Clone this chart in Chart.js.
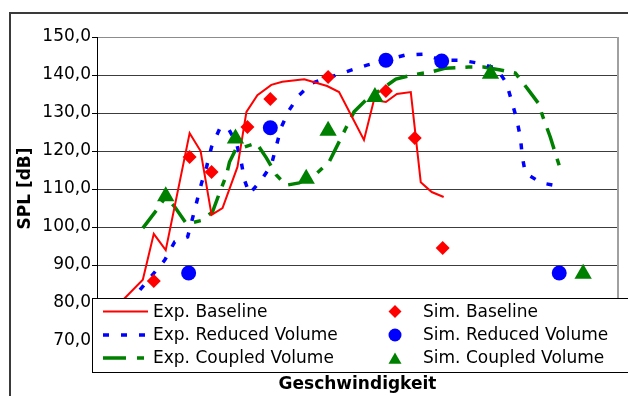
<!DOCTYPE html>
<html>
<head>
<meta charset="utf-8">
<script src="https://cdn.jsdelivr.net/npm/chart.js@4.4.1/dist/chart.umd.min.js"></script>
<style>
  html, body { margin: 0; padding: 0; background: #fff; }
  canvas { display: block; }
</style>
</head>
<body>
<canvas id="splChart" width="628" height="396"></canvas>
<script>
// Speed axis has no labels, so positions are in plain units (0 .. 523)
const expBaselineX = [16, 28, 46, 57, 69, 93, 104, 115, 126, 141, 150, 161, 175, 186, 208, 231, 243, 268, 278, 290, 301, 315, 325, 336, 348];
const expBaselineY = [78.2, 81.3, 86.1, 98.2, 93.9, 124.7, 120.0, 103.2, 105.0, 115.8, 130.3, 134.7, 137.4, 138.2, 138.9, 137.1, 135.5, 122.9, 133.4, 132.9, 135.0, 135.5, 111.8, 109.2, 107.9];

const expReducedX = [33, 43, 68, 78, 91, 96, 105, 110, 115, 123, 131, 140, 145, 148, 153, 165, 175, 185, 193, 203, 216, 253, 271, 310, 328, 346, 365, 381, 401, 411, 416, 421, 425, 427, 430, 446, 463];
const expReducedY = [79.5, 83.4, 91.3, 96.1, 97.4, 102.4, 111.6, 115.8, 121.1, 125.8, 126.3, 122.1, 116.8, 112.4, 108.7, 112.4, 116.3, 126.3, 130.8, 134.7, 137.9, 141.1, 142.6, 145.3, 145.5, 143.9, 143.9, 143.2, 141.8, 137.9, 133.4, 128.7, 123.7, 118.4, 114.2, 111.6, 110.8];

const expCoupledX = [46, 60, 69, 78, 90, 106, 116, 123, 130, 133, 139, 145, 160, 170, 180, 190, 203, 221, 233, 250, 258, 270, 300, 316, 335, 350, 373, 388, 405, 420, 433, 443, 448, 455, 460, 466];
const expCoupledY = [99.7, 104.5, 108.0, 105.3, 100.8, 101.8, 104.0, 109.0, 113.7, 117.1, 120.3, 120.8, 122.1, 118.2, 113.7, 111.0, 111.6, 114.2, 117.1, 126.1, 130.3, 133.4, 138.9, 140.0, 140.8, 141.8, 142.1, 142.1, 141.3, 140.5, 136.1, 132.6, 128.7, 123.7, 119.5, 114.5];

const simBaselineX = [57, 93, 115, 151, 174, 232, 290, 319, 347];
const simBaselineY = [85.8, 118.4, 114.5, 126.3, 133.7, 139.5, 135.8, 123.4, 94.5];

const simReducedX = [92, 174, 290, 346, 464];
const simReducedY = [87.9, 126.1, 143.9, 143.7, 87.9];

const simCoupledX = [69, 139, 210, 232, 279, 395, 488];
const simCoupledY = [108.1, 123.3, 112.7, 125.3, 134.2, 140.3, 87.7];

const yTicks = [70, 80, 90, 100, 110, 120, 130, 140, 150];

const FONT = 'DejaVu Sans';

function toPoints(xs, ys) {
    return xs.map((x, i) => ({ x: x, y: ys[i] }));
}

// Legend entries (drawn by hand in a box over the bottom of the plot)
const legendLines = [
    { label: 'Exp. Baseline', color: '#ff0000', width: 2, dash: [] },
    { label: 'Exp. Reduced Volume', color: '#0000ff', width: 3.5, dash: [6, 12] },
    { label: 'Exp. Coupled Volume', color: '#008000', width: 3.5, dash: [23, 11, 7, 11] }
];
const legendMarkers = [
    { label: 'Sim. Baseline', color: '#ff0000', style: 'rectRot', radius: 6.5 },
    { label: 'Sim. Reduced Volume', color: '#0000ff', style: 'circle', radius: 6.5 },
    { label: 'Sim. Coupled Volume', color: '#008000', style: 'triangle', radius: 7.5 }
];

const decorPlugin = {
    id: 'decor',
    beforeDraw(chart) {
        const ctx = chart.ctx;
        ctx.save();
        // outer frame (only left and top edges are in view)
        ctx.strokeStyle = '#3a3a3a';
        ctx.lineWidth = 2;
        ctx.beginPath();
        ctx.moveTo(10, 396);
        ctx.lineTo(10, 13);
        ctx.lineTo(628, 13);
        ctx.stroke();
        ctx.restore();
    },
    afterDraw(chart) {
        const ctx = chart.ctx;
        const area = chart.chartArea;
        ctx.save();

        // right border of the plot area
        ctx.strokeStyle = '#a0a0a0';
        ctx.lineWidth = 2;
        ctx.beginPath();
        ctx.moveTo(area.right, area.top);
        ctx.lineTo(area.right, area.bottom);
        ctx.stroke();

        // legend box
        ctx.fillStyle = '#ffffff';
        ctx.fillRect(92, 298, 560, 74);
        ctx.strokeStyle = '#000000';
        ctx.lineWidth = 1;
        ctx.strokeRect(92.5, 298.5, 560, 74);

        const rows = [311.5, 335, 358];
        ctx.font = '17px "' + FONT + '"';
        ctx.textBaseline = 'middle';
        ctx.textAlign = 'left';
        legendLines.forEach((item, i) => {
            ctx.strokeStyle = item.color;
            ctx.lineWidth = item.width;
            ctx.setLineDash(item.dash);
            ctx.beginPath();
            ctx.moveTo(103, rows[i]);
            ctx.lineTo(148, rows[i]);
            ctx.stroke();
            ctx.setLineDash([]);
            ctx.fillStyle = '#000';
            ctx.fillText(item.label, 153, rows[i] + 1);
        });
        legendMarkers.forEach((item, i) => {
            ctx.fillStyle = item.color;
            ctx.strokeStyle = item.color;
            Chart.helpers.drawPoint(ctx, {
                pointStyle: item.style,
                radius: item.radius,
                rotation: 0,
                borderWidth: 0
            }, 395, rows[i] + (item.style === 'triangle' ? 2 : 0));
            ctx.fillStyle = '#000';
            ctx.fillText(item.label, 423, rows[i] + 1);
        });

        // axis titles
        ctx.font = 'bold 17px "' + FONT + '"';
        ctx.textAlign = 'center';
        ctx.fillText('Geschwindigkeit', (area.left + area.right) / 2, 385);
        ctx.translate(25.5, 188.5);
        ctx.rotate(-Math.PI / 2);
        ctx.fillText('SPL [dB]', 0, 0);

        ctx.restore();
    }
};

const ctx = document.getElementById('splChart').getContext('2d');
const splChart = new Chart(ctx, {
    type: 'scatter',
    data: {
        datasets: [
            {
                label: 'Sim. Baseline',
                data: toPoints(simBaselineX, simBaselineY),
                pointStyle: 'rectRot',
                pointRadius: 7,
                backgroundColor: '#ff0000',
                borderWidth: 0,
                order: 0
            },
            {
                label: 'Sim. Reduced Volume',
                data: toPoints(simReducedX, simReducedY),
                pointStyle: 'circle',
                pointRadius: 7.5,
                backgroundColor: '#0000ff',
                borderWidth: 0,
                order: 0
            },
            {
                label: 'Sim. Coupled Volume',
                data: toPoints(simCoupledX, simCoupledY),
                pointStyle: 'triangle',
                pointRadius: 10,
                backgroundColor: '#008000',
                borderWidth: 0,
                order: 0
            },
            {
                label: 'Exp. Baseline',
                data: toPoints(expBaselineX, expBaselineY),
                showLine: true,
                pointRadius: 0,
                borderColor: '#ff0000',
                borderWidth: 2,
                tension: 0,
                order: 1
            },
            {
                label: 'Exp. Reduced Volume',
                data: toPoints(expReducedX, expReducedY),
                showLine: true,
                pointRadius: 0,
                borderColor: '#0000ff',
                borderWidth: 3.5,
                borderDash: [6, 12],
                tension: 0,
                order: 1
            },
            {
                label: 'Exp. Coupled Volume',
                data: toPoints(expCoupledX, expCoupledY),
                showLine: true,
                pointRadius: 0,
                borderColor: '#008000',
                borderWidth: 3.5,
                borderDash: [22, 10, 7, 10],
                tension: 0,
                order: 1
            }
        ]
    },
    options: {
        responsive: false,
        animation: false,
        devicePixelRatio: 1,
        layout: {
            padding: { top: 37, right: 8, bottom: 55, left: 0 }
        },
        plugins: {
            legend: { display: false },
            tooltip: { enabled: false }
        },
        scales: {
            x: {
                type: 'linear',
                display: false,
                min: 0,
                max: 523
            },
            y: {
                min: 70,
                max: 150,
                afterBuildTicks: function(scale) {
                    scale.ticks = yTicks.map(v => ({ value: v }));
                },
                afterFit: function(scale) {
                    scale.width = 97;
                },
                ticks: {
                    color: '#000',
                    padding: 1,
                    font: { family: FONT, size: 17 },
                    callback: function(value) {
                        return value.toFixed(1).replace('.', ',');
                    }
                },
                grid: {
                    color: c => (c.tick && c.tick.value === 150) ? '#8c8c8c' : '#3c3c3c',
                    lineWidth: 1,
                    tickLength: 5,
                    tickColor: '#000'
                },
                border: { display: true, color: '#000', width: 1 }
            }
        }
    },
    plugins: [decorPlugin]
});
</script>
</body>
</html>
